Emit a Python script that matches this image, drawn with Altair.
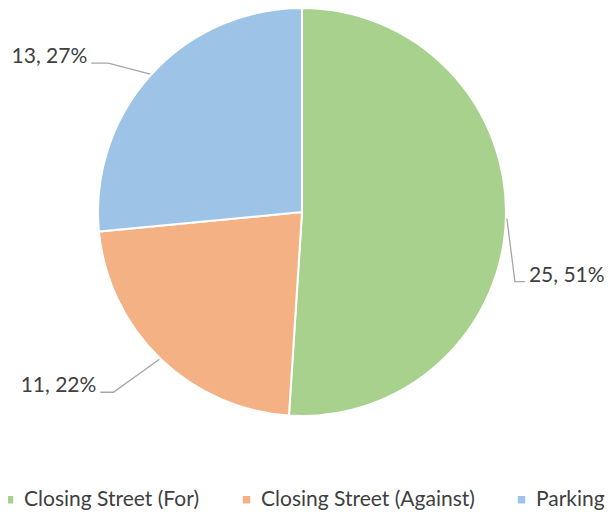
import math
import altair as alt
import pandas as pd

# ---- data ----
categories = ["Closing Street (For)", "Closing Street (Against)", "Parking"]
counts = [25, 11, 13]

# ---- style / layout ----
colors = ["#A9D18E", "#F4B183", "#9DC3E6"]
W, H = 599, 502
CX, CY, R = 294, 204, 204
FONT = "Lato"
FS = 21
TXT = "#404040"
# leader layout: elbow offset from slice edge, tail length (signed)
elbow_off = [(8, 63), (-46, 33), (-42, -11)]
tail_len = [10, -13, -17]

total = sum(counts)
pie = pd.DataFrame({"cat": categories, "n": counts, "ord": list(range(len(counts)))})

rows_line, rows_text = [], []
start = 0.0
for i, (c, n) in enumerate(zip(categories, counts)):
    mid = (start + n / 2) / total * 2 * math.pi
    start += n
    ex = CX + (R + 1) * math.sin(mid)
    ey = CY - (R + 1) * math.cos(mid)
    bx, by = ex + elbow_off[i][0], ey + elbow_off[i][1]
    tx, ty = bx + tail_len[i], by
    for k, (px, py) in enumerate([(ex, ey), (bx, by), (tx, ty)]):
        rows_line.append({"cat": c, "k": k, "x": px, "y": py})
    side = 1 if tail_len[i] > 0 else -1
    rows_text.append({
        "cat": c,
        "x": tx + 4 * side,
        "y": ty - 6,
        "label": f"{n}, {round(100 * n / total)}%",
        "align": "left" if side > 0 else "right",
    })
lines = pd.DataFrame(rows_line)
texts = pd.DataFrame(rows_text)

arc = alt.Chart(pie).mark_arc(stroke="white", strokeWidth=2, outerRadius=R).encode(
    theta=alt.Theta("n:Q", stack=True),
    order=alt.Order("ord:Q"),
    color=alt.Color(
        "cat:N",
        scale=alt.Scale(domain=categories, range=colors),
        sort=categories,
        legend=alt.Legend(
            title=None,
            orient="none",
            direction="horizontal",
            legendX=-9,
            legendY=481,
            symbolType="square",
            symbolSize=56,
            symbolStrokeWidth=0,
            labelFont=FONT,
            labelFontSize=FS,
            labelColor=TXT,
            labelOffset=4,
            labelLimit=400,
            columnPadding=36,
            padding=0,
        ),
    ),
    x=alt.value(CX),
    y=alt.value(CY),
)

leaders = alt.Chart(lines).mark_line(color="#A6A6A6", strokeWidth=1.3).encode(
    x=alt.X("x:Q", scale=None, axis=None),
    y=alt.Y("y:Q", scale=None, axis=None),
    detail="cat:N",
    order="k:Q",
)

left_lbl = alt.Chart(texts[texts["align"] == "left"]).mark_text(
    align="left", baseline="middle", font=FONT, fontSize=FS, color=TXT
).encode(x=alt.X("x:Q", scale=None), y=alt.Y("y:Q", scale=None), text="label:N")

right_lbl = alt.Chart(texts[texts["align"] == "right"]).mark_text(
    align="right", baseline="middle", font=FONT, fontSize=FS, color=TXT
).encode(x=alt.X("x:Q", scale=None), y=alt.Y("y:Q", scale=None), text="label:N")

chart = (
    alt.layer(arc, leaders, left_lbl, right_lbl)
    .properties(width=W, height=H, padding=0, autosize=alt.AutoSizeParams(type="none"))
    .configure_view(stroke=None)
    .resolve_scale(x="independent", y="independent")
)

chart.save("out.html", embed_options={"renderer": "svg", "actions": False})
